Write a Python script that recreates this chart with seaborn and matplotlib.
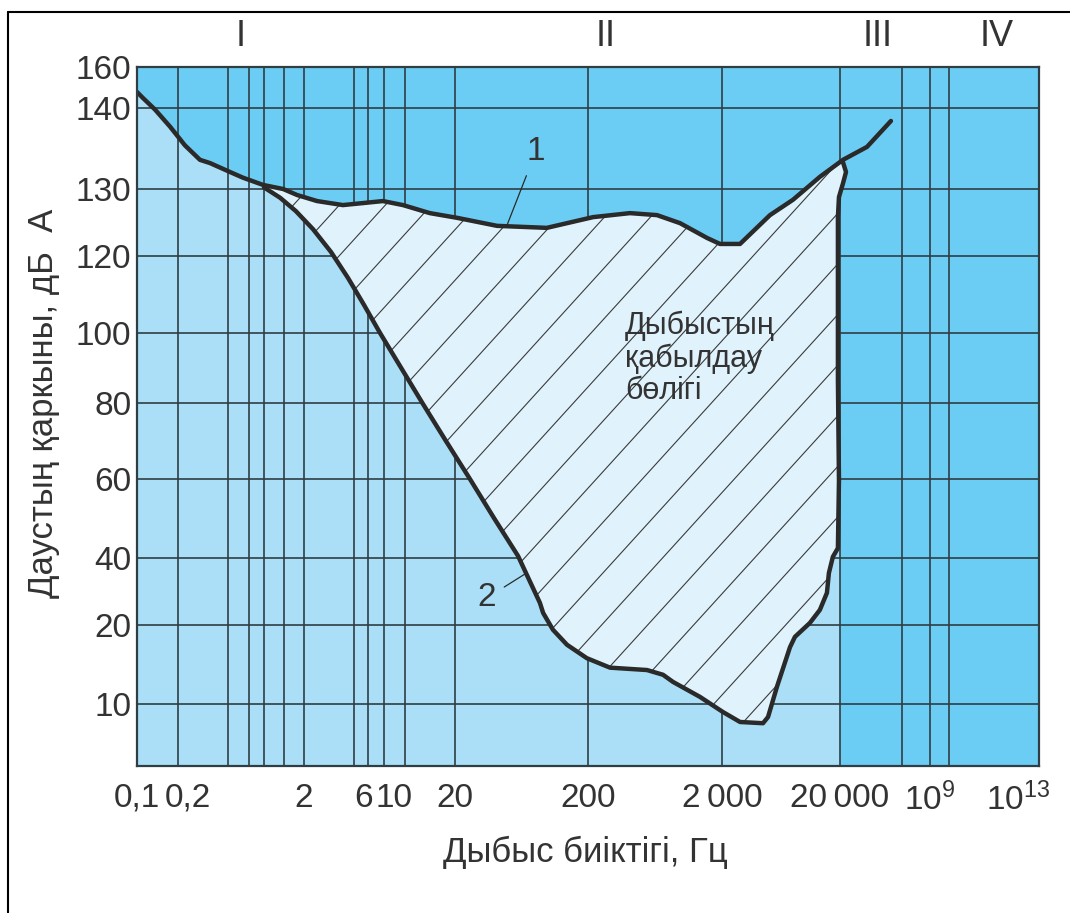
import numpy as np
import matplotlib
matplotlib.use("Agg")
import matplotlib.pyplot as plt
import seaborn as sns
from matplotlib.collections import LineCollection
from matplotlib.lines import Line2D

sns.set_theme(style="white")
plt.rcParams['font.family'] = ['Liberation Sans', 'DejaVu Sans']
plt.rcParams['mathtext.default'] = 'regular'

# curve 1 - upper limit of hearing
c1_hz = np.array([0.1, 0.107, 0.123, 0.146, 0.187, 0.264, 0.332, 0.516, 0.635, 0.98,
                  1.38, 1.77, 2.54, 4.08, 5.92, 7.89, 12.4, 16.1, 20.7, 41.4,
                  98, 139, 218, 411, 655, 973, 1545, 1932, 2844, 5100,
                  8000, 13500, 27000, 3.0e5, 3.3e6])
c1_db = np.array([147.8, 144.9, 139.8, 137.7, 135.4, 133.6, 133.2, 132.1, 131.4, 130.5,
                  130.0, 129.1, 128.2, 127.6, 127.9, 128.2, 127.6, 126.4, 125.7, 124.5,
                  124.2, 124.9, 125.8, 126.4, 126.1, 124.9, 122.7, 121.8, 121.8, 126.1,
                  128.4, 131.5, 133.6, 135.2, 138.4])

# curve 2 - threshold of hearing, closing back onto curve 1 at ~20 kHz
c2_hz = np.array([1.0, 1.31, 1.73, 2.36, 3.28, 4.48, 6.03, 7.60, 15.1, 18.5,
                  25.9, 39.3, 59.6, 69.5, 87, 92, 109, 139, 196, 292,
                  551, 726, 861, 1370, 2040, 2844, 4450, 4910, 5850, 7540,
                  8300, 11100, 13500, 15500, 16100, 17400, 19200, 19600, 19200, 19200,
                  19200, 19600, 27000, 36500, 27000])
c2_db = np.array([130.2, 128.7, 126.7, 124.0, 120.6, 114.3, 107.3, 100.0, 80.0, 70.0,
                  60.0, 50.1, 40.5, 34.9, 26.6, 23.6, 19.4, 17.5, 15.8, 14.6,
                  14.3, 13.7, 12.8, 10.9, 8.7, 7.1, 6.9, 7.9, 12.2, 17.2,
                  18.5, 20.6, 24.5, 29.6, 35.5, 40.3, 42.5, 59.7, 86.6, 108.6,
                  125.8, 128.8, 130.7, 132.1, 133.3])

x_tick_hz = [0.1, 0.2, 2, 6, 10, 20, 200, 2000, 20000, 1e9, 1e13]
x_tick_labels = ["0,1", "0,2", "2", "6", "10", "20", "200", "2\u2009000",
                 "20\u2009000", r"$10^{9}$", r"$10^{13}$"]
x_grid_hz = [0.16, 0.5, 0.7, 1, 1.4, 2, 5, 6.5, 8, 13, 20, 200, 2000, 20000, 1e7, 1e9, 1e10]
y_ticks_db = [10, 20, 40, 60, 80, 100, 120, 130, 140, 160]
zones = ["I", "II", "III", "IV"]

# the printed chart is not a true log scale, so the axes are stretched piecewise
X_ANCHOR_HZ = [0.1, 0.16, 0.5, 0.7, 1, 1.4, 2, 5, 6.5, 8, 13, 20, 200, 2000, 20000,
               1e7, 1e9, 1e10, 1e13, 1e14]
X_ANCHOR_PX = [0, 41, 91, 112, 127, 147, 167, 217, 231, 247, 268, 318, 451, 585, 703,
               765, 793, 812, 881, 902]
Y_ANCHOR_DB = [0, 10, 20, 40, 60, 80, 100, 120, 130, 140, 160]
Y_ANCHOR_PX = [0, 62, 141, 208, 287, 363, 433, 510, 577, 658, 699]

X_LOG = np.log10(X_ANCHOR_HZ)


def x_fwd(v):
    v = np.clip(np.asarray(v, dtype=float), 1e-3, None)
    return np.interp(np.log10(v), X_LOG, X_ANCHOR_PX)


def x_inv(p):
    return 10 ** np.interp(np.asarray(p, dtype=float), X_ANCHOR_PX, X_LOG)


def y_fwd(v):
    return np.interp(np.asarray(v, dtype=float), Y_ANCHOR_DB, Y_ANCHOR_PX)


def y_inv(p):
    return np.interp(np.asarray(p, dtype=float), Y_ANCHOR_PX, Y_ANCHOR_DB)


DARK = '#6ccdf4'
LIGHT = '#abdff7'
INNER = '#e0f3fc'
GRID = '#2f3d44'
INK = '#2a2a2a'
TXT = '#333333'

fig = plt.figure(figsize=(10.7, 9.13), dpi=100)
ax = fig.add_axes([137 / 1070, 147 / 913, 902 / 1070, 699 / 913])
ax.set_xscale('function', functions=(x_fwd, x_inv))
ax.set_yscale('function', functions=(y_fwd, y_inv))
ax.set_xlim(0.1, 1e14)
ax.set_ylim(0, 160)

# backgrounds: audible band light, everything above curve 1 and beyond 20 kHz dark
ax.set_facecolor(DARK)
ax.axvspan(0.1, 20000, color=LIGHT, lw=0, zorder=0.1)
ax.fill_between(c1_hz, c1_db, 160, color=DARK, lw=0, zorder=0.2)

# perceived region between the two curves
mask = (c1_hz > c2_hz[0]) & (c1_hz < c2_hz[-1])
poly_x = np.concatenate([c2_hz, c1_hz[mask][::-1]])
poly_y = np.concatenate([c2_db, c1_db[mask][::-1]])
poly = ax.fill(poly_x, poly_y, color=INNER, lw=0, zorder=1)[0]

slope = 1.1 * 902 / 699
segs = [[(c, 0), (c + 1 / slope, 1)] for c in np.arange(-0.8, 1.0, 0.051)]
hatch = LineCollection(segs, colors='#3b3b3b', linewidths=0.8,
                       transform=ax.transAxes, zorder=1.1)
hatch.set_clip_path(poly)
ax.add_collection(hatch, autolim=False)

sns.lineplot(x=c1_hz, y=c1_db, ax=ax, color=INK, linewidth=3.2, sort=False,
             estimator=None, zorder=3, solid_capstyle='round', solid_joinstyle='round')
sns.lineplot(x=c2_hz, y=c2_db, ax=ax, color=INK, linewidth=3.2, sort=False,
             estimator=None, zorder=3, solid_capstyle='round', solid_joinstyle='round')

# grid and ticks
ax.xaxis.remove_overlapping_locs = False
ax.set_xticks(x_grid_hz, minor=True)
ax.set_xticks(x_tick_hz, x_tick_labels)
ax.set_yticks(y_ticks_db, [str(v) for v in y_ticks_db])
ax.grid(False)
ax.xaxis.grid(True, which='minor', color=GRID, linewidth=1.2)
ax.yaxis.grid(True, which='major', color=GRID, linewidth=1.2)
ax.set_axisbelow(True)
ax.tick_params(axis='both', which='both', length=0, labelsize=24, labelcolor=TXT)
ax.tick_params(axis='x', pad=12)
ax.tick_params(axis='y', pad=4)
for s in ax.spines.values():
    s.set_visible(True)
    s.set_color(GRID)
    s.set_linewidth(1.6)
    s.set_zorder(5)

ax.set_xlabel("Дыбыс биіктігі, Гц", fontsize=25, color=TXT)
ax.xaxis.set_label_coords(0.497, -0.100)
ax.set_ylabel("Даустың қаркыны, дБ  А", fontsize=25, color=TXT)
ax.yaxis.set_label_coords(-0.085, 0.519)

for name, xf in zip(zones, [0.1153, 0.520, 0.8215, 0.9534]):
    ax.text(xf, 1.044, name, transform=ax.transAxes, ha='center', va='center',
            fontsize=26, color=TXT)

ax.text(0.541, 0.651, "Дыбыстың\nқабылдау\nбөлігі", transform=ax.transAxes,
        ha='left', va='top', fontsize=22, color=TXT, linespacing=1.1, zorder=4)

leader = dict(arrowstyle='-', color=INK, lw=0.9, shrinkA=4, shrinkB=0)
ax.annotate("1", xy=(49, 124.5), xytext=(81, 134.6), ha='center', va='center',
            fontsize=24, color=TXT, arrowprops=leader, zorder=4)
ax.annotate("2", xy=(67, 35.2), xytext=(34.8, 28.1), ha='center', va='center',
            fontsize=24, color=TXT, arrowprops=leader, zorder=4)

# page frame of the printed figure
fig.add_artist(Line2D([8 / 1070, 8 / 1070], [0, 1 - 12 / 913], transform=fig.transFigure,
                      color='black', lw=1.5))
fig.add_artist(Line2D([8 / 1070, 1], [1 - 12 / 913, 1 - 12 / 913], transform=fig.transFigure,
                      color='black', lw=1.5))

fig.savefig('out.png', dpi=100)
